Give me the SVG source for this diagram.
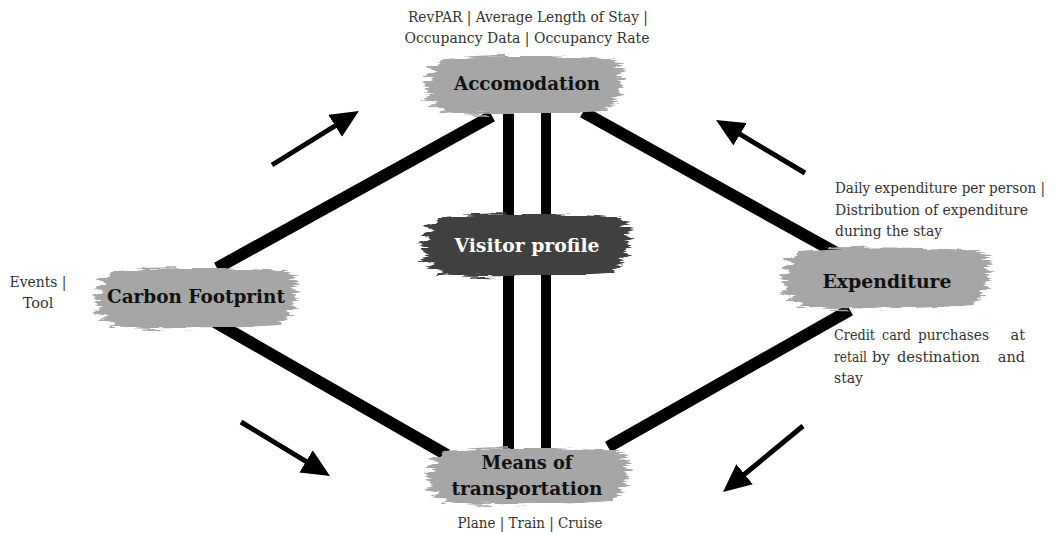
<svg xmlns="http://www.w3.org/2000/svg" xmlns:xlink="http://www.w3.org/1999/xlink" width="1056" height="533" viewBox="0 0 1056 533">
<defs>
<style>
.conn{stroke:#000;stroke-width:12;stroke-linecap:butt;fill:none}
.arrow{stroke:#000;stroke-width:5;fill:none;marker-end:url(#head)}
.lbl{font-family:"DejaVu Serif","Liberation Serif",serif;font-weight:bold;font-size:19px;fill:#111;text-anchor:middle}
.lblw{fill:#fff}
.note{font-family:"DejaVu Serif","Liberation Serif",serif;font-size:14.5px;fill:#333}
.mid{text-anchor:middle}
.end{text-anchor:end}
.light{fill:#a6a6a6}
.dark{fill:#404040}
</style>
<marker id="head" viewBox="0 0 28 26" refX="8" refY="13" markerWidth="28" markerHeight="26" markerUnits="userSpaceOnUse" orient="auto">
<path d="M0,0 L28,13 L0,26 Z" fill="#000"/>
</marker>
<filter id="rough" x="-10%" y="-25%" width="120%" height="150%">
<feTurbulence type="fractalNoise" baseFrequency="0.03 0.35" numOctaves="2" seed="4" result="n"/>
<feDisplacementMap in="SourceGraphic" in2="n" scale="9" xChannelSelector="R" yChannelSelector="G"/>
</filter>
<path id="brush" d="M -88,-26 C -40,-31 40,-30 80,-27 L 95,-28 L 88,-24 L 104,-22 L 92,-18 L 108,-14 L 96,-10 L 110,-6 L 98,-2 L 106,2 L 96,6 L 104,10 L 92,14 L 100,18 L 86,22 L 90,26 C 40,30 -40,31 -80,28 L -92,29 L -86,25 L -102,22 L -92,18 L -110,14 L -96,10 L -106,6 L -98,2 L -110,-2 L -96,-6 L -108,-10 L -94,-14 L -104,-18 L -90,-22 Z"/>
</defs>
<rect width="1056" height="533" fill="#fff"/>

<g id="connectors">
<line class="conn" x1="217" y1="268" x2="492" y2="116"/>
<line class="conn" x1="583" y1="112" x2="842" y2="256"/>
<line class="conn" x1="215" y1="322" x2="447" y2="455"/>
<line class="conn" x1="850" y1="310" x2="608" y2="447"/>
<line class="conn" x1="508.5" y1="112" x2="508.5" y2="452" style="stroke-width:11"/>
<line class="conn" x1="546" y1="110" x2="546" y2="452" style="stroke-width:10"/>
<line class="arrow" x1="272" y1="165" x2="341.9" y2="121.6"/>
<line class="arrow" x1="805" y1="173" x2="733.2" y2="130.2"/>
<line class="arrow" x1="241" y1="422" x2="312.9" y2="465.6"/>
<line class="arrow" x1="803" y1="426" x2="738.4" y2="479.3"/>
</g>

<g id="accomodation">
<use xlink:href="#brush" class="light" filter="url(#rough)" transform="translate(525,85) scale(0.95,0.98)"/>
<text class="lbl" x="527" y="90" textLength="146" lengthAdjust="spacingAndGlyphs">Accomodation</text>
<text class="note mid" x="528" y="22" textLength="240" lengthAdjust="spacingAndGlyphs">RevPAR | Average Length of Stay |</text>
<text class="note mid" x="527" y="43" textLength="245" lengthAdjust="spacingAndGlyphs">Occupancy Data | Occupancy Rate</text>
</g>

<g id="visitor-profile">
<use xlink:href="#brush" class="dark" filter="url(#rough)" transform="translate(527,245) scale(1,1.05)"/>
<text class="lbl lblw" x="527" y="252" textLength="145" lengthAdjust="spacingAndGlyphs">Visitor profile</text>
</g>

<g id="carbon-footprint">
<use xlink:href="#brush" class="light" filter="url(#rough)" transform="translate(197,298) scale(0.97,1.02)"/>
<text class="lbl" x="196" y="303" textLength="178" lengthAdjust="spacingAndGlyphs">Carbon Footprint</text>
<text class="note mid" x="38" y="287" textLength="57" lengthAdjust="spacingAndGlyphs">Events |</text>
<text class="note mid" x="38" y="308">Tool</text>
</g>

<g id="expenditure">
<use xlink:href="#brush" class="light" filter="url(#rough)" transform="translate(887,278) scale(1,1.03)"/>
<text class="lbl" x="887" y="288" textLength="129" lengthAdjust="spacingAndGlyphs">Expenditure</text>
<text class="note" x="835" y="193" textLength="210" lengthAdjust="spacingAndGlyphs">Daily expenditure per person |</text>
<text class="note" x="835" y="215" textLength="193" lengthAdjust="spacingAndGlyphs">Distribution of expenditure</text>
<text class="note" x="835" y="236" textLength="107" lengthAdjust="spacingAndGlyphs">during the stay</text>
<text class="note" y="340"><tspan x="834" textLength="41" lengthAdjust="spacingAndGlyphs">Credit</tspan><tspan x="882" textLength="29" lengthAdjust="spacingAndGlyphs">card</tspan><tspan x="918" textLength="71" lengthAdjust="spacingAndGlyphs">purchases</tspan></text>
<text class="note end" x="1025" y="340">at</text>
<text class="note" y="362"><tspan x="834" textLength="33" lengthAdjust="spacingAndGlyphs">retail</tspan><tspan x="872" textLength="18" lengthAdjust="spacingAndGlyphs">by</tspan><tspan x="897" textLength="83" lengthAdjust="spacingAndGlyphs">destination</tspan></text>
<text class="note end" x="1025" y="362">and</text>
<text class="note" x="834" y="383" textLength="29" lengthAdjust="spacingAndGlyphs">stay</text>
</g>

<g id="means-of-transportation">
<use xlink:href="#brush" class="light" filter="url(#rough)" transform="translate(529,476) scale(0.97,0.95)"/>
<text class="lbl" x="527" y="469" textLength="91" lengthAdjust="spacingAndGlyphs">Means of</text>
<text class="lbl" x="527" y="495" textLength="151" lengthAdjust="spacingAndGlyphs">transportation</text>
<text class="note mid" x="530" y="528" textLength="145" lengthAdjust="spacingAndGlyphs">Plane | Train | Cruise</text>
</g>
</svg>
